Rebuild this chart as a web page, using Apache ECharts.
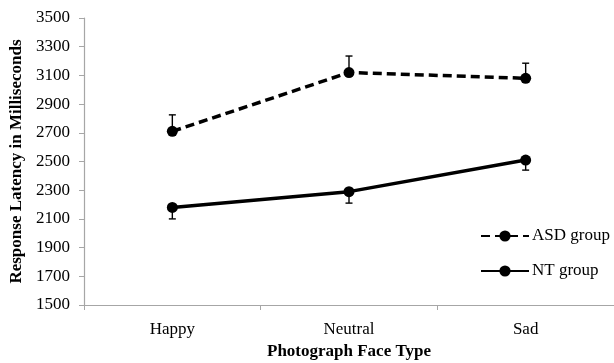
<!DOCTYPE html>
<html><head><meta charset="utf-8">
<script src="https://cdn.jsdelivr.net/npm/echarts@6/dist/echarts.min.js"></script>
<style>html,body{margin:0;padding:0;background:#fff}#c{width:614px;height:363px}</style>
</head><body><div id="c"></div>
<script>
const categories = ['Happy', 'Neutral', 'Sad'];
const asdValues = [2710, 3120, 3080];
const ntValues = [2180, 2290, 2510];
const asdErrors = [115, 115, 105];
const ntErrors = [80, 80, 70];
const yTicks = [1500, 1700, 1900, 2100, 2300, 2500, 2700, 2900, 3100, 3300, 3500];

const font = 'Liberation Serif, Times New Roman, serif';
const chart = echarts.init(document.getElementById('c'));

function errSeries(values, errors, dir) {
  return {
    type: 'custom', silent: true, z: 1,
    data: values.map((v, i) => [i, v, v + dir * errors[i]]),
    renderItem: function (params, api) {
      const p0 = api.coord([api.value(0), api.value(1)]);
      const p1 = api.coord([api.value(0), api.value(2)]);
      const w = 3.5;
      const st = { stroke: '#000', lineWidth: 1.4 };
      return { type: 'group', children: [
        { type: 'line', shape: { x1: p0[0], y1: p0[1], x2: p1[0], y2: p1[1] }, style: st },
        { type: 'line', shape: { x1: p1[0] - w, y1: p1[1], x2: p1[0] + w, y2: p1[1] }, style: st }
      ]};
    }
  };
}

chart.setOption({
  animation: false,
  grid: { left: 84, top: 18, right: 0, bottom: 58, containLabel: false, outerBoundsMode: 'none' },
  legend: {
    orient: 'vertical', left: 475, top: 221, itemGap: 15, itemWidth: 48, itemHeight: 14,
    textStyle: { fontFamily: font, fontSize: 17, color: '#000', lineHeight: 20, padding: [0, 0, 0, -2] },
    data: ['ASD group', 'NT group']
  },
  xAxis: {
    type: 'category', data: categories, boundaryGap: true,
    name: 'Photograph Face Type', nameLocation: 'middle', nameGap: 37,
    nameTextStyle: { fontFamily: font, fontSize: 17, fontWeight: 'bold', color: '#000' },
    axisLine: { lineStyle: { color: '#a6a6a6', width: 1.2 } },
    axisTick: { show: true, length: 5, lineStyle: { color: '#a6a6a6' } },
    axisLabel: { fontFamily: font, fontSize: 17, color: '#000', margin: 16 }
  },
  yAxis: {
    type: 'value', min: 1500, max: 3500, interval: 200,
    name: 'Response Latency in Milliseconds', nameLocation: 'middle', nameGap: 58,
    nameTextStyle: { fontFamily: font, fontSize: 17, fontWeight: 'bold', color: '#000' },
    axisLine: { show: true, lineStyle: { color: '#a6a6a6', width: 1.2 } },
    axisTick: { show: true, length: 5, lineStyle: { color: '#a6a6a6' } },
    splitLine: { show: false },
    axisLabel: { fontFamily: font, fontSize: 17, color: '#000', margin: 14,
      formatter: v => yTicks.includes(v) ? String(v) : '' }
  },
  series: [
    errSeries(asdValues, asdErrors, 1),
    errSeries(ntValues, ntErrors, -1),
    { name: 'ASD group', type: 'line', data: asdValues, z: 3,
      symbol: 'circle', symbolSize: 11, itemStyle: { color: '#000' },
      lineStyle: { color: '#000', width: 3.5, type: [9, 5] } },
    { name: 'NT group', type: 'line', data: ntValues, z: 3,
      symbol: 'circle', symbolSize: 11, itemStyle: { color: '#000' },
      lineStyle: { color: '#000', width: 3.5 } }
  ]
});
</script></body></html>
